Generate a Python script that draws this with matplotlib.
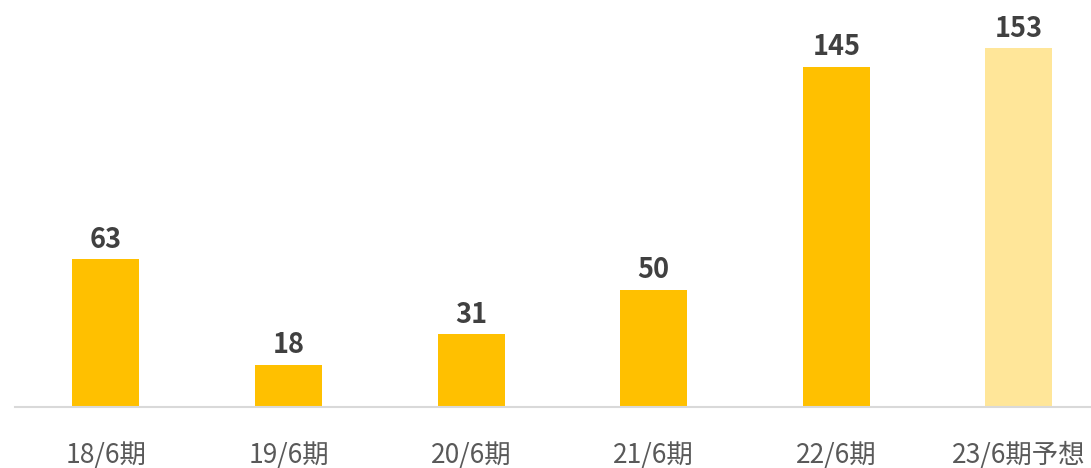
import matplotlib
matplotlib.use("Agg")
import matplotlib.pyplot as plt
import numpy as np

plt.rcParams['font.family'] = ['Noto Sans CJK JP', 'DejaVu Sans']

# データ
categories = ['18/6期', '19/6期', '20/6期', '21/6期', '22/6期', '23/6期予想']
values = [63, 18, 31, 50, 145, 153]
colors = ['#FFC000'] * 5 + ['#FFE699']

fig = plt.figure(figsize=(10.91, 4.68), dpi=100)
ax = fig.add_axes([15 / 1091, 61 / 468, 1076 / 1091, 407 / 468])

x = np.arange(len(categories))
bars = ax.bar(x, values, width=0.367, color=colors, zorder=2)

for xi, v in zip(x, values):
    ax.annotate(str(v), (xi, v), xytext=(0, 4), textcoords='offset points',
                ha='center', va='bottom', fontsize=19.5, fontweight='bold',
                color='#404040')

ax.set_xlim(-0.498, 5.395)
ax.set_ylim(0, 173.6)

ax.set_xticks(x)
ax.set_xticklabels(categories, fontsize=19, color='#595959')
ax.tick_params(axis='x', length=0, pad=25)
ax.set_yticks([])

for s in ['top', 'right', 'left']:
    ax.spines[s].set_visible(False)
ax.spines['bottom'].set_color('#D9D9D9')
ax.spines['bottom'].set_linewidth(1.5)

fig.savefig('out.png', dpi=100)
